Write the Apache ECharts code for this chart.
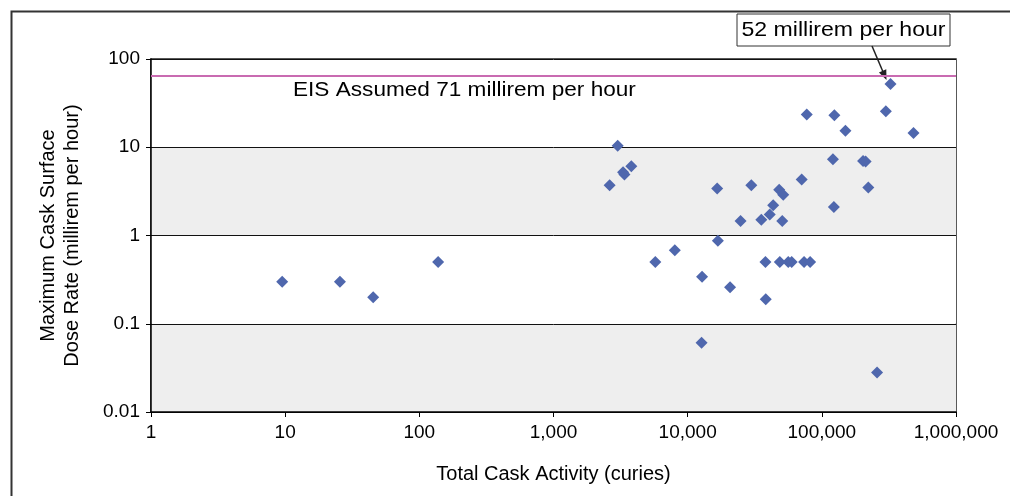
<!DOCTYPE html>
<html>
<head>
<meta charset="utf-8">
<script src="https://cdn.jsdelivr.net/npm/echarts@6/dist/echarts.min.js"></script>
<style>
  html, body { margin: 0; padding: 0; background: #fff; }
  #main { width: 1010px; height: 496px; }
</style>
</head>
<body>
<div id="main"></div>
<script>
// total cask activity (curies) and max surface dose rate (millirem per hour)
var activity = [9.5, 25.6, 45.3, 138, 2620, 3010, 3300, 3380, 3800, 5740, 8020, 12700, 12800,
  16600, 16800, 20700, 24800, 29800, 35400, 38000, 38200, 40900, 43400, 48100, 48600, 50700,
  51600, 56200, 59600, 70800, 73700, 77200, 81800, 121000, 123000, 124000, 150000, 203000,
  212000, 222000, 258000, 300000, 325000, 482000]
var doseRate = [0.3, 0.3, 0.2, 0.5, 3.7, 10.4, 5.2, 4.9, 6.1, 0.5, 0.68, 0.061, 0.34,
  3.4, 0.87, 0.26, 1.46, 3.7, 1.51, 0.5, 0.19, 1.73, 2.2, 3.3, 0.5, 1.46,
  2.9, 0.5, 0.5, 4.3, 0.5, 23.5, 0.5, 7.3, 2.1, 23.1, 15.4, 7.0,
  6.9, 3.5, 0.028, 25.6, 52, 14.5]
var xTickLabels = ['1', '10', '100', '1,000', '10,000', '100,000', '1,000,000']
var yTickLabels = ['0.01', '0.1', '1', '10', '100']
var eisLine = 65          // where the assumed-limit line is drawn
var eisText = 'EIS Assumed 71 millirem per hour'
var callout = [325000, 52]
var calloutText = '52 millirem per hour'

var font = '"Liberation Sans", Arial, sans-serif'
var chart = echarts.init(document.getElementById('main'))

chart.setOption({
  animation: false,
  textStyle: { fontFamily: font },
  grid: {
    left: 151, right: 54, top: 59, bottom: 84,
    show: true, borderColor: '#222', borderWidth: 1.5, backgroundColor: 'transparent'
  },
  xAxis: {
    type: 'log', logBase: 10, min: 1, max: 1000000,
    name: 'Total Cask Activity (curies)',
    nameLocation: 'middle', nameGap: 52,
    nameTextStyle: { fontSize: 20, color: '#000' },
    axisLine: { lineStyle: { color: '#000', width: 1.5 } },
    axisTick: { show: true, length: 5, lineStyle: { color: '#000' } },
    axisLabel: {
      fontSize: 19, color: '#000', margin: 11,
      formatter: function (v) { return xTickLabels[Math.round(Math.log10(v))] }
    },
    splitLine: { show: false }
  },
  yAxis: {
    type: 'log', logBase: 10, min: 0.01, max: 100,
    name: 'Maximum Cask Surface\nDose Rate (millirem per hour)',
    nameLocation: 'middle', nameGap: 67, nameRotate: 90,
    nameTextStyle: { fontSize: 20, color: '#000', lineHeight: 24 },
    axisLine: { lineStyle: { color: '#000', width: 1.5 } },
    axisTick: { show: true, length: 5, lineStyle: { color: '#000' } },
    axisLabel: {
      fontSize: 19, color: '#000', margin: 11,
      formatter: function (v) { return yTickLabels[Math.round(Math.log10(v)) + 2] }
    },
    splitLine: { show: true, lineStyle: { color: '#111', width: 1 } },
    splitArea: { show: true, areaStyle: { color: ['#eeeeee', '#ffffff'] } }
  },
  series: [{
    type: 'scatter',
    symbol: 'diamond',
    symbolSize: 12,
    itemStyle: { color: '#4f67ad', opacity: 1 },
    data: activity.map(function (a, i) { return [a, doseRate[i]] }),
    markLine: {
      silent: true,
      symbol: ['none', 'none'],
      label: { show: false },
      lineStyle: { color: '#c96bb1', width: 2, type: 'solid' },
      data: [{ yAxis: eisLine }]
    }
  }]
})

// annotations, placed from the axes
var lp = chart.convertToPixel({ gridIndex: 0 }, [1, eisLine])
var cp = chart.convertToPixel({ gridIndex: 0 }, callout)
var start = [872, 46]
var tip = [cp[0] - 4, cp[1] - 4]
var dx = tip[0] - start[0], dy = tip[1] - start[1]
var len = Math.sqrt(dx * dx + dy * dy)
var ux = dx / len, uy = dy / len
var head = [
  tip,
  [tip[0] - ux * 10 - uy * 4, tip[1] - uy * 10 + ux * 4],
  [tip[0] - ux * 10 + uy * 4, tip[1] - uy * 10 - ux * 4]
]

chart.setOption({
  graphic: [
    {
      type: 'rect', left: 9, top: 9, silent: true,
      shape: { width: 1010, height: 500 },
      style: { fill: 'none', stroke: '#333', lineWidth: 2 }
    },
    {
      type: 'text', x: 293, y: lp[1] + 15, scaleX: 1.13,
      style: { text: eisText, font: '20px ' + font, fill: '#000', textVerticalAlign: 'middle' }
    },
    {
      type: 'rect', shape: { x: 737, y: 14, width: 213, height: 32 },
      style: { fill: '#fff', stroke: '#333', lineWidth: 1 }
    },
    {
      type: 'text', x: 843.5, y: 30.5, scaleX: 1.1,
      style: { text: calloutText, font: '21px ' + font, fill: '#000', textAlign: 'center', textVerticalAlign: 'middle' }
    },
    {
      type: 'line', shape: { x1: start[0], y1: start[1], x2: tip[0] - ux * 8, y2: tip[1] - uy * 8 },
      style: { stroke: '#222', lineWidth: 1.5 }
    },
    {
      type: 'polygon', shape: { points: head },
      style: { fill: '#222' }
    }
  ]
})
</script>
</body>
</html>
